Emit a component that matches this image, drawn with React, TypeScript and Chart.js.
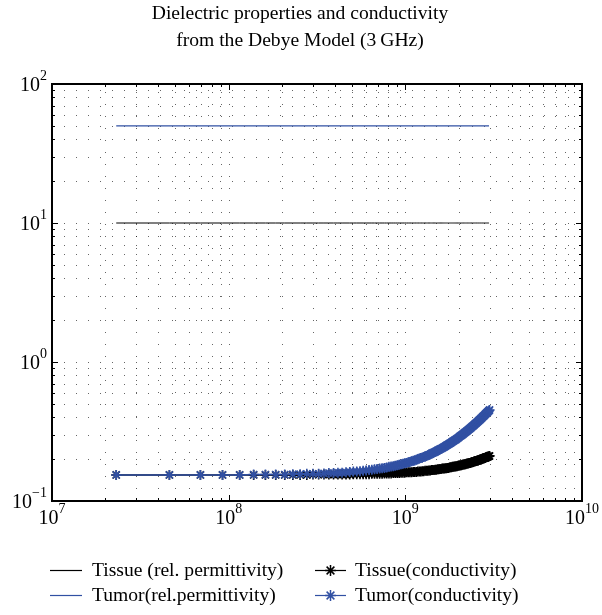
import React, { useEffect, useRef } from 'react';
import { Chart, registerables } from 'chart.js';

Chart.register(...registerables);

// Sweep frequencies (MHz)
const freqMHz = [
  23.1, 46.2, 69.2, 92.3, 115.4, 138.5, 161.5, 184.6, 207.7, 230.8, 253.8, 276.9, 300.0,
  323.1, 346.2, 369.2, 392.3, 415.4, 438.5, 461.5, 484.6, 507.7, 530.8, 553.8, 576.9, 600.0,
  623.1, 646.2, 669.2, 692.3, 715.4, 738.5, 761.5, 784.6, 807.7, 830.8, 853.8, 876.9, 900.0,
  923.1, 946.2, 969.2, 992.3, 1015.4, 1038.5, 1061.5, 1084.6, 1107.7, 1130.8, 1153.8, 1176.9, 1200.0,
  1223.1, 1246.2, 1269.2, 1292.3, 1315.4, 1338.5, 1361.5, 1384.6, 1407.7, 1430.8, 1453.8, 1476.9, 1500.0,
  1523.1, 1546.2, 1569.2, 1592.3, 1615.4, 1638.5, 1661.5, 1684.6, 1707.7, 1730.8, 1753.8, 1776.9, 1800.0,
  1823.1, 1846.2, 1869.2, 1892.3, 1915.4, 1938.5, 1961.5, 1984.6, 2007.7, 2030.8, 2053.8, 2076.9, 2100.0,
  2123.1, 2146.2, 2169.2, 2192.3, 2215.4, 2238.5, 2261.5, 2284.6, 2307.7, 2330.8, 2353.8, 2376.9, 2400.0,
  2423.1, 2446.2, 2469.2, 2492.3, 2515.4, 2538.5, 2561.5, 2584.6, 2607.7, 2630.8, 2653.8, 2676.9, 2700.0,
  2723.1, 2746.2, 2769.2, 2792.3, 2815.4, 2838.5, 2861.5, 2884.6, 2907.7, 2930.8, 2953.8, 2976.9, 3000.0,
];

// Conductivity (S/m)
const tissueConductivity = [
  0.154, 0.154, 0.154, 0.154, 0.154, 0.154, 0.154, 0.154, 0.154, 0.154, 0.154, 0.154, 0.155,
  0.155, 0.155, 0.155, 0.155, 0.155, 0.155, 0.155, 0.155, 0.156, 0.156, 0.156, 0.156, 0.156,
  0.156, 0.157, 0.157, 0.157, 0.157, 0.157, 0.158, 0.158, 0.158, 0.158, 0.159, 0.159, 0.159,
  0.159, 0.160, 0.160, 0.160, 0.161, 0.161, 0.161, 0.161, 0.162, 0.162, 0.162, 0.163, 0.163,
  0.163, 0.164, 0.164, 0.165, 0.165, 0.165, 0.166, 0.166, 0.167, 0.167, 0.167, 0.168, 0.168,
  0.169, 0.169, 0.170, 0.170, 0.171, 0.171, 0.171, 0.172, 0.172, 0.173, 0.173, 0.174, 0.175,
  0.175, 0.176, 0.176, 0.177, 0.177, 0.178, 0.178, 0.179, 0.180, 0.180, 0.181, 0.181, 0.182,
  0.183, 0.183, 0.184, 0.184, 0.185, 0.186, 0.186, 0.187, 0.188, 0.188, 0.189, 0.190, 0.190,
  0.191, 0.192, 0.193, 0.193, 0.194, 0.195, 0.196, 0.196, 0.197, 0.198, 0.199, 0.199, 0.200,
  0.201, 0.202, 0.203, 0.203, 0.204, 0.205, 0.206, 0.207, 0.208, 0.208, 0.209, 0.210, 0.211,
];

const tumorConductivity = [
  0.154, 0.154, 0.154, 0.154, 0.154, 0.155, 0.155, 0.155, 0.155, 0.156, 0.156, 0.157, 0.157,
  0.157, 0.158, 0.159, 0.159, 0.160, 0.160, 0.161, 0.162, 0.163, 0.163, 0.164, 0.165, 0.166,
  0.167, 0.168, 0.169, 0.170, 0.171, 0.172, 0.173, 0.174, 0.176, 0.177, 0.178, 0.179, 0.181,
  0.182, 0.184, 0.185, 0.187, 0.188, 0.190, 0.191, 0.193, 0.195, 0.196, 0.198, 0.200, 0.202,
  0.204, 0.205, 0.207, 0.209, 0.211, 0.213, 0.215, 0.217, 0.220, 0.222, 0.224, 0.226, 0.228,
  0.231, 0.233, 0.236, 0.238, 0.240, 0.243, 0.245, 0.248, 0.251, 0.253, 0.256, 0.259, 0.261,
  0.264, 0.267, 0.270, 0.273, 0.275, 0.278, 0.281, 0.284, 0.287, 0.291, 0.294, 0.297, 0.300,
  0.303, 0.307, 0.310, 0.313, 0.317, 0.320, 0.323, 0.327, 0.330, 0.334, 0.337, 0.341, 0.345,
  0.348, 0.352, 0.356, 0.360, 0.363, 0.367, 0.371, 0.375, 0.379, 0.383, 0.387, 0.391, 0.395,
  0.400, 0.404, 0.408, 0.412, 0.416, 0.421, 0.425, 0.430, 0.434, 0.438, 0.443, 0.447, 0.452,
];

// Relative permittivity (flat over the sweep)
const tissuePermittivity = 10;
const tumorPermittivity = 50;

const titleLines = ['Dielectric properties and conductivity', 'from the Debye Model (3\u2009GHz)'];
const xDecades = [7, 8, 9, 10];
const yDecades = [-1, 0, 1, 2];
const legendLabels = [
  'Tissue (rel. permittivity)',
  'Tumor(rel.permittivity)',
  'Tissue(conductivity)',
  'Tumor(conductivity)',
];

const BLUE = '#3150a3';
const BLACK = '#000000';
const SERIF = '"Liberation Serif", "DejaVu Serif", serif';

function logGrid(loExp: number, hiExp: number): number[] {
  const vals: number[] = [];
  for (let e = loExp; e < hiExp; e++) {
    for (let m = 1; m <= 9; m++) vals.push(m * Math.pow(10, e));
  }
  vals.push(Math.pow(10, hiExp));
  return vals;
}

function expText(e: number) {
  return e < 0 ? '\u2212' + Math.abs(e) : String(e);
}

function drawStar(ctx: CanvasRenderingContext2D, cx: number, cy: number, r: number) {
  const d = r * Math.SQRT1_2;
  ctx.beginPath();
  ctx.moveTo(cx - r, cy);
  ctx.lineTo(cx + r, cy);
  ctx.moveTo(cx, cy - r);
  ctx.lineTo(cx, cy + r);
  ctx.moveTo(cx - d, cy - d);
  ctx.lineTo(cx + d, cy + d);
  ctx.moveTo(cx - d, cy + d);
  ctx.lineTo(cx + d, cy - d);
  ctx.stroke();
}

const axesFrame = {
  id: 'axesFrame',
  beforeDatasetsDraw(chart: any) {
    const { ctx, chartArea: a, scales } = chart;
    const x = scales.x;
    const y = scales.y;
    ctx.save();
    ctx.strokeStyle = 'rgba(0,0,0,0.6)';
    ctx.lineWidth = 1;
    ctx.setLineDash([1, 11]);
    for (const v of logGrid(xDecades[0], xDecades[xDecades.length - 1])) {
      const px = Math.round(x.getPixelForValue(v)) + 0.5;
      if (px <= a.left + 2 || px >= a.right - 2) continue;
      ctx.beginPath();
      ctx.moveTo(px, a.bottom);
      ctx.lineTo(px, a.top);
      ctx.stroke();
    }
    for (const v of logGrid(yDecades[0], yDecades[yDecades.length - 1])) {
      const py = Math.round(y.getPixelForValue(v)) + 0.5;
      if (py <= a.top + 2 || py >= a.bottom - 2) continue;
      ctx.beginPath();
      ctx.moveTo(a.left, py);
      ctx.lineTo(a.right, py);
      ctx.stroke();
    }
    ctx.restore();
  },
  afterDraw(chart: any) {
    const { ctx, chartArea: a, scales } = chart;
    const x = scales.x;
    const y = scales.y;
    ctx.save();

    // inward tick marks on all four sides
    ctx.strokeStyle = BLACK;
    ctx.lineWidth = 1;
    for (const v of logGrid(xDecades[0], xDecades[xDecades.length - 1])) {
      const px = Math.round(x.getPixelForValue(v)) + 0.5;
      const major = Math.abs(Math.log10(v) - Math.round(Math.log10(v))) < 1e-9;
      const len = major ? 6 : 3;
      ctx.beginPath();
      ctx.moveTo(px, a.bottom);
      ctx.lineTo(px, a.bottom - len);
      ctx.moveTo(px, a.top);
      ctx.lineTo(px, a.top + len);
      ctx.stroke();
    }
    for (const v of logGrid(yDecades[0], yDecades[yDecades.length - 1])) {
      const py = Math.round(y.getPixelForValue(v)) + 0.5;
      const major = Math.abs(Math.log10(v) - Math.round(Math.log10(v))) < 1e-9;
      const len = major ? 6 : 3;
      ctx.beginPath();
      ctx.moveTo(a.left, py);
      ctx.lineTo(a.left + len, py);
      ctx.moveTo(a.right, py);
      ctx.lineTo(a.right - len, py);
      ctx.stroke();
    }

    // axes box
    ctx.lineWidth = 2;
    ctx.strokeRect(a.left, a.top, a.right - a.left, a.bottom - a.top);

    // tick labels: 10 with superscript exponent
    ctx.fillStyle = BLACK;
    ctx.textBaseline = 'alphabetic';
    ctx.textAlign = 'left';
    const baseFont = `20px ${SERIF}`;
    const expFont = `14px ${SERIF}`;
    for (const e of xDecades) {
      const px = x.getPixelForValue(Math.pow(10, e));
      ctx.font = baseFont;
      const wb = ctx.measureText('10').width;
      ctx.font = expFont;
      const we = ctx.measureText(expText(e)).width;
      const start = px - (wb + we) / 2;
      ctx.font = baseFont;
      ctx.fillText('10', start, a.bottom + 23);
      ctx.font = expFont;
      ctx.fillText(expText(e), start + wb, a.bottom + 12);
    }
    for (const e of yDecades) {
      const py = y.getPixelForValue(Math.pow(10, e));
      ctx.font = baseFont;
      const wb = ctx.measureText('10').width;
      ctx.font = expFont;
      const we = ctx.measureText(expText(e)).width;
      const start = a.left - 5 - (wb + we);
      ctx.font = baseFont;
      ctx.fillText('10', start, py + 7);
      ctx.font = expFont;
      ctx.fillText(expText(e), start + wb, py - 4);
    }

    // title
    ctx.font = `19.6px ${SERIF}`;
    ctx.textAlign = 'center';
    ctx.fillText(titleLines[0], 300, 19);
    ctx.fillText(titleLines[1], 300, 46);

    // legend
    ctx.textAlign = 'left';
    const rows = [570, 595];
    const items = [
      { label: legendLabels[0], color: BLACK, marker: false, col: 0, row: 0 },
      { label: legendLabels[1], color: BLUE, marker: false, col: 0, row: 1 },
      { label: legendLabels[2], color: BLACK, marker: true, col: 1, row: 0 },
      { label: legendLabels[3], color: BLUE, marker: true, col: 1, row: 1 },
    ];
    const cols = [
      { x0: 50, x1: 82, tx: 92 },
      { x0: 315, x1: 346, tx: 355 },
    ];
    for (const it of items) {
      const c = cols[it.col];
      const ry = rows[it.row] + 0.5;
      ctx.strokeStyle = it.color;
      ctx.lineWidth = 1.2;
      ctx.beginPath();
      ctx.moveTo(c.x0, ry);
      ctx.lineTo(c.x1, ry);
      ctx.stroke();
      if (it.marker) {
        ctx.lineWidth = 1.5;
        drawStar(ctx, (c.x0 + c.x1) / 2, ry, 5.5);
      }
      ctx.fillStyle = BLACK;
      ctx.font = `19.6px ${SERIF}`;
      ctx.fillText(it.label, c.tx, rows[it.row] + 6);
    }
    ctx.restore();
  },
};

export default function App() {
  const canvasRef = useRef<HTMLCanvasElement | null>(null);

  useEffect(() => {
    const canvas = canvasRef.current;
    if (!canvas) return;

    const conductivityPoints = (vals: number[]) =>
      freqMHz.map((f, i) => ({ x: f * 1e6, y: vals[i] }));
    const permittivityPoints = (v: number) => freqMHz.map((f) => ({ x: f * 1e6, y: v }));

    const chart = new Chart(canvas, {
      type: 'line',
      data: {
        datasets: [
          {
            label: legendLabels[3],
            data: conductivityPoints(tumorConductivity),
            borderColor: BLUE,
            backgroundColor: BLUE,
            borderWidth: 1.5,
            pointStyle: 'star',
            pointRadius: 5,
            pointBorderWidth: 1.6,
            pointBorderColor: BLUE,
          },
          {
            label: legendLabels[2],
            data: conductivityPoints(tissueConductivity),
            borderColor: BLACK,
            backgroundColor: BLACK,
            borderWidth: 1.5,
            pointStyle: 'star',
            pointRadius: 5,
            pointBorderWidth: 1.6,
            pointBorderColor: BLACK,
          },
          {
            label: legendLabels[1],
            data: permittivityPoints(tumorPermittivity),
            borderColor: BLUE,
            borderWidth: 1.3,
            pointRadius: 0,
          },
          {
            label: legendLabels[0],
            data: permittivityPoints(tissuePermittivity),
            borderColor: BLACK,
            borderWidth: 1,
            pointRadius: 0,
          },
        ],
      },
      options: {
        responsive: false,
        animation: false,
        devicePixelRatio: 1,
        layout: { padding: { top: 84, right: 20, left: 0, bottom: 0 } },
        plugins: {
          legend: { display: false },
          title: { display: false },
          tooltip: { enabled: false },
        },
        scales: {
          x: {
            type: 'logarithmic',
            min: 1e7,
            max: 1e10,
            ticks: { display: false },
            grid: { display: false },
            border: { display: false },
            afterFit: (s: any) => {
              s.height = 114;
            },
          },
          y: {
            type: 'logarithmic',
            min: 0.1,
            max: 100,
            ticks: { display: false },
            grid: { display: false },
            border: { display: false },
            afterFit: (s: any) => {
              s.width = 52;
            },
          },
        },
      },
      plugins: [axesFrame],
    });

    return () => chart.destroy();
  }, []);

  return (
    <div style={{ position: 'absolute', left: 0, top: 0, width: 602, height: 615, background: '#fff' }}>
      <canvas ref={canvasRef} width={602} height={615} style={{ display: 'block' }} />
    </div>
  );
}
